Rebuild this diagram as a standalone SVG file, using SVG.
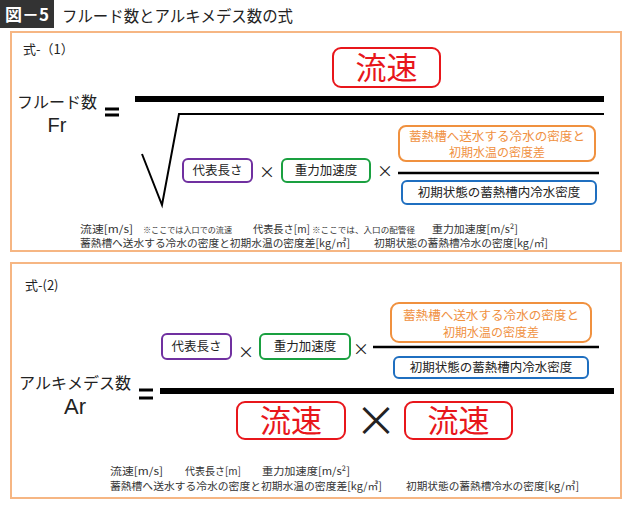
<svg xmlns="http://www.w3.org/2000/svg" width="630" height="510" viewBox="0 0 630 510">
<style>
text{font-family:"Noto Sans CJK JP","Liberation Sans",sans-serif;fill:#222}
.panel{fill:#fff;stroke:#f6b683;stroke-width:2}
.box{fill:#fff;stroke-width:2}
.pur{stroke:#7030a0}.grn{stroke:#1aa040}.org{stroke:#f0913f}.blu{stroke:#1f6fc0}.red{stroke:#e8161b}
.bt{font-size:12.5px;text-anchor:middle}
.ot{font-size:12px;text-anchor:middle;fill:#f0913f}
.rt{font-size:31px;text-anchor:middle;fill:#e8161b}
.note{font-size:10.5px;fill:#333}
.small{font-size:8px}
.mul{font-size:16px;text-anchor:middle}
.lat{font-family:"Liberation Sans",sans-serif}
.bar{stroke:#000;fill:none}
</style>
<rect x="0" y="0" width="630" height="510" fill="#fff"/>
<g id="title">
<rect x="0" y="0" width="54" height="28" fill="#333"/>
<text x="27" y="21" style="font-size:17px;fill:#fff;text-anchor:middle;font-weight:bold">図－5</text>
<text x="62" y="22" style="font-size:16px" textLength="231" lengthAdjust="spacingAndGlyphs">フルード数とアルキメデス数の式</text>
</g>
<g id="panel1">
<rect class="panel" x="11" y="32" width="610" height="219"/>
<text x="23" y="54" style="font-size:13px">式-（1）</text>
</g>
<g id="panel2">
<rect class="panel" x="11" y="263" width="610" height="235"/>
<text x="25" y="290" style="font-size:13px">式-(2)</text>
</g>
<g id="fr-label">
<text style="text-anchor:middle"><tspan x="57" y="108" style="font-size:16px">フルード数</tspan><tspan class="lat" x="57" y="132" style="font-size:20px">Fr</tspan></text>
</g>
<g id="connectors">
<path class="bar" d="M105 109H119M105 115H119" stroke-width="3"/>
<path class="bar" d="M135 99H604" stroke-width="6"/>
<path class="bar" d="M142 154L162 205L179 114H604" stroke-width="2"/>
<path class="bar" d="M398 173H599" stroke-width="2.5"/>
<path class="bar" d="M139 390H153M139 398H153" stroke-width="3"/>
<path class="bar" d="M160 391H614" stroke-width="6"/>
<path class="bar" d="M373 347H599" stroke-width="2.5"/>
</g>
<g id="f1-flow">
<rect class="box red" x="333" y="48" width="107" height="39" rx="8"/>
<text class="rt" x="386.5" y="79">流速</text>
</g>
<g id="f1-length">
<rect class="box pur" x="183" y="159" width="69" height="23" rx="5"/>
<text class="bt" x="217.5" y="175">代表長さ</text>
</g>
<g id="f1-x1"><text class="mul" x="267" y="178">×</text></g>
<g id="f1-gravity">
<rect class="box grn" x="282" y="159" width="88" height="23" rx="5"/>
<text class="bt" x="326" y="175">重力加速度</text>
</g>
<g id="f1-x2"><text class="mul" x="385" y="177">×</text></g>
<g id="f1-diff">
<rect class="box org" x="399" y="126" width="196" height="35" rx="7"/>
<text class="ot"><tspan x="497" y="141" textLength="176" lengthAdjust="spacingAndGlyphs">蓄熱槽へ送水する冷水の密度と</tspan><tspan x="497" y="156.5">初期水温の密度差</tspan></text>
</g>
<g id="f1-dens">
<rect class="box blu" x="402" y="181" width="194" height="23" rx="5"/>
<text class="bt" x="499" y="197">初期状態の蓄熱槽内冷水密度</text>
</g>
<g id="notes1">
<text class="note"><tspan x="80" y="233" textLength="53" lengthAdjust="spacingAndGlyphs">流速[m/s]</tspan><tspan class="small" x="143" y="233" textLength="89" lengthAdjust="spacingAndGlyphs">※ここでは入口での流速</tspan><tspan x="253" y="233" textLength="57" lengthAdjust="spacingAndGlyphs">代表長さ[m]</tspan><tspan class="small" x="312" y="233" textLength="103" lengthAdjust="spacingAndGlyphs">※ここでは、入口の配管径</tspan><tspan x="432" y="233" textLength="86" lengthAdjust="spacingAndGlyphs">重力加速度[m/s²]</tspan><tspan x="80" y="247" textLength="270" lengthAdjust="spacingAndGlyphs">蓄熱槽へ送水する冷水の密度と初期水温の密度差[kg/㎥]</tspan><tspan x="374" y="247" textLength="174" lengthAdjust="spacingAndGlyphs">初期状態の蓄熱槽冷水の密度[kg/㎥]</tspan></text>
</g>
<g id="ar-label">
<text style="text-anchor:middle"><tspan x="75" y="389" style="font-size:16px">アルキメデス数</tspan><tspan class="lat" x="75" y="414" style="font-size:22px">Ar</tspan></text>
</g>
<g id="f2-length">
<rect class="box pur" x="162" y="334" width="69" height="25" rx="5"/>
<text class="bt" x="196.5" y="351">代表長さ</text>
</g>
<g id="f2-x1"><text class="mul" x="246" y="358">×</text></g>
<g id="f2-gravity">
<rect class="box grn" x="260" y="334" width="90" height="25" rx="5"/>
<text class="bt" x="305" y="351">重力加速度</text>
</g>
<g id="f2-x2"><text class="mul" x="361" y="355">×</text></g>
<g id="f2-diff">
<rect class="box org" x="391" y="303" width="200" height="39" rx="8"/>
<text class="ot"><tspan x="491" y="320" textLength="176" lengthAdjust="spacingAndGlyphs">蓄熱槽へ送水する冷水の密度と</tspan><tspan x="491" y="336.5">初期水温の密度差</tspan></text>
</g>
<g id="f2-dens">
<rect class="box blu" x="394" y="357" width="194" height="21" rx="5"/>
<text class="bt" x="491" y="372">初期状態の蓄熱槽内冷水密度</text>
</g>
<g id="f2-flow1">
<rect class="box red" x="237" y="402" width="108" height="37" rx="8"/>
<text class="rt" x="291" y="432">流速</text>
</g>
<g id="f2-x3"><text x="376" y="436" style="font-size:42px;text-anchor:middle">×</text></g>
<g id="f2-flow2">
<rect class="box red" x="405" y="402" width="107" height="37" rx="8"/>
<text class="rt" x="458.5" y="432">流速</text>
</g>
<g id="notes2">
<text class="note"><tspan x="110" y="475" textLength="53" lengthAdjust="spacingAndGlyphs">流速[m/s]</tspan><tspan x="185" y="475" textLength="56" lengthAdjust="spacingAndGlyphs">代表長さ[m]</tspan><tspan x="262" y="475" textLength="88" lengthAdjust="spacingAndGlyphs">重力加速度[m/s²]</tspan><tspan x="110" y="490" textLength="272" lengthAdjust="spacingAndGlyphs">蓄熱槽へ送水する冷水の密度と初期水温の密度差[kg/㎥]</tspan><tspan x="406" y="490" textLength="173" lengthAdjust="spacingAndGlyphs">初期状態の蓄熱槽冷水の密度[kg/㎥]</tspan></text>
</g>
</svg>
